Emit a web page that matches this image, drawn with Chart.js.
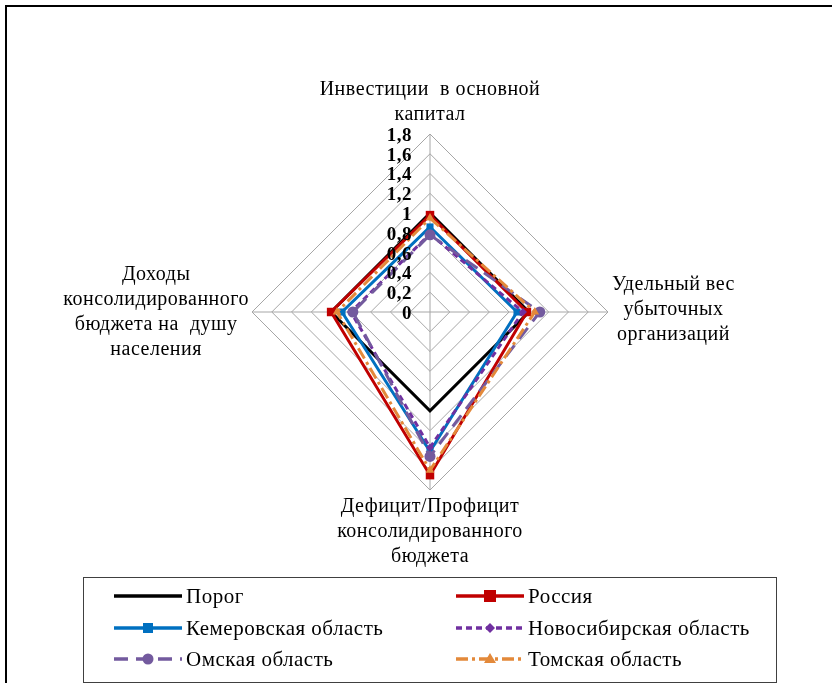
<!DOCTYPE html>
<html><head><meta charset="utf-8">
<script src="https://cdn.jsdelivr.net/npm/chart.js@4.4.0/dist/chart.umd.min.js"></script>
<style>
html,body{margin:0;padding:0;background:#fff;width:832px;height:683px;overflow:hidden;}
#frame{position:absolute;left:5px;top:5px;width:900px;height:800px;border-left:2.5px solid #000;border-top:2.5px solid #000;}
#c{position:absolute;left:0;top:0;}
#legend{position:absolute;left:83px;top:577px;width:694px;height:106px;border:1.5px solid #404040;box-sizing:border-box;font-family:"Liberation Serif","Times New Roman",serif;font-size:21px;letter-spacing:0.5px;color:#000;}
.item{position:absolute;height:26px;display:flex;align-items:center;white-space:nowrap;}
.item svg{margin-right:4px;}
</style></head>
<body>
<div id="frame"></div>
<canvas id="c" width="832" height="683"></canvas>
<div id="legend"></div>
<script>
const categories = [
  ["Инвестиции  в основной", "капитал"],
  ["Удельный вес", "убыточных", "организаций"],
  ["Дефицит/Профицит", "консолидированного", "бюджета"],
  ["Доходы", "консолидированного", "бюджета на  душу", "населения"]
];
const tickValues = [0, 0.2, 0.4, 0.6, 0.8, 1, 1.2, 1.4, 1.6, 1.8];
const tickLabels = ["0", "0,2", "0,4", "0,6", "0,8", "1", "1,2", "1,4", "1,6", "1,8"];
const seriesNames = ["Порог", "Россия", "Кемеровская область", "Новосибирская область", "Омская область", "Томская область"];
const porog = [1, 1, 1, 1];
const rossiya = [0.98, 0.98, 1.65, 1.0];
const kemerovo = [0.86, 0.88, 1.41, 0.89];
const novosib = [0.79, 0.94, 1.37, 0.8];
const omsk = [0.78, 1.11, 1.46, 0.78];
const tomsk = [0.95, 1.06, 1.6, 0.94];

const styles = [
  {color:'#000000', dash:[], point:false, r:0, width:3},
  {color:'#c00000', dash:[], point:'rect', r:6, width:3},
  {color:'#0070c0', dash:[], point:'rect', r:5, width:3},
  {color:'#7030a0', dash:[6,4], point:'rectRot', r:4, width:3},
  {color:'#735a9e', dash:[14,8], point:'circle', r:5.5, width:3},
  {color:'#e3893a', dash:[12,4,3,4], point:'triangle', r:5, width:3}
];
const allData = [porog, rossiya, kemerovo, novosib, omsk, tomsk];

const datasets = allData.map((d,i)=>({
  label: seriesNames[i],
  data: d,
  borderColor: styles[i].color,
  backgroundColor: styles[i].color,
  borderWidth: styles[i].width,
  borderDash: styles[i].dash,
  pointStyle: styles[i].point || 'circle',
  pointRadius: styles[i].r,
  pointBorderWidth: 0,
  pointBackgroundColor: styles[i].color,
  fill: false,
  tension: 0,
  order: 5 - i
}));

const serif = '"Liberation Serif","Times New Roman",serif';

const labelPlugin = {
  id: 'customLabels',
  afterDraw(chart) {
    const s = chart.scales.r;
    const ctx = chart.ctx;
    ctx.save();
    // tick labels
    ctx.font = 'bold 19px ' + serif;
    ctx.letterSpacing = '0.5px';
    ctx.fillStyle = '#000';
    ctx.textAlign = 'right';
    ctx.textBaseline = 'middle';
    tickValues.forEach((v, i) => {
      const p = s.getPointPositionForValue(0, v);
      ctx.fillText(tickLabels[i], p.x - 18, p.y + 2);
    });
    // point labels
    ctx.font = '20px ' + serif;
    ctx.letterSpacing = '0.5px';
    ctx.textAlign = 'center';
    const lh = 25;
    const R = s.drawingArea;
    categories.forEach((lines, i) => {
      const maxW = Math.max(...lines.map(l => ctx.measureText(l).width));
      const n = lines.length;
      let cx, cyTop;
      if (i === 0) {
        const p = s.getPointPosition(i, R + 7);
        cx = p.x; cyTop = p.y - n * lh;
      } else if (i === 2) {
        const p = s.getPointPosition(i, R + 4);
        cx = p.x; cyTop = p.y;
      } else if (i === 1) {
        const p = s.getPointPosition(i, R + 4);
        cx = p.x + maxW / 2; cyTop = p.y - n * lh / 2 - 2;
      } else {
        const p = s.getPointPosition(i, R + 3);
        cx = p.x - maxW / 2; cyTop = p.y - n * lh / 2;
      }
      lines.forEach((l, k) => ctx.fillText(l, cx, cyTop + lh * k + lh / 2));
    });
    ctx.restore();
  }
};

new Chart(document.getElementById('c'), {
  type: 'radar',
  data: { labels: categories.map(c => c.join(' ')), datasets },
  options: {
    responsive: false,
    animation: false,
    devicePixelRatio: 1,
    layout: { padding: { left: 252, right: 224, top: 134, bottom: 193 } },
    plugins: { legend: { display: false }, tooltip: { enabled: false } },
    elements: { line: { borderJoinStyle: 'miter' } },
    scales: {
      r: {
        min: 0, max: 1.8,
        ticks: { stepSize: 0.2, display: false },
        grid: { circular: false, color: '#a6a6a6', lineWidth: 1 },
        angleLines: { color: '#a6a6a6', lineWidth: 1 },
        pointLabels: { display: false }
      }
    }
  },
  plugins: [labelPlugin]
});

// HTML legend
const legend = document.getElementById('legend');
const pos = [[30,5],[372,5],[30,37],[372,37],[30,68],[372,68]];
seriesNames.forEach((name, i) => {
  const st = styles[i];
  const div = document.createElement('div');
  div.className = 'item';
  div.style.left = pos[i][0] + 'px';
  div.style.top = pos[i][1] + 'px';
  const W = 68, H = 20, cy = 10;
  let dash = st.dash.length ? `stroke-dasharray="${st.dash.join(' ')}"` : '';
  let marker = '';
  const c = st.color, mx = W/2;
  if (st.point === 'rect') marker = `<rect x="${mx-st.r}" y="${cy-st.r}" width="${2*st.r}" height="${2*st.r}" fill="${c}"/>`;
  if (st.point === 'rectRot') marker = `<polygon points="${mx},${cy-5} ${mx+5},${cy} ${mx},${cy+5} ${mx-5},${cy}" fill="${c}"/>`;
  if (st.point === 'circle') marker = `<circle cx="${mx}" cy="${cy}" r="5.5" fill="${c}"/>`;
  if (st.point === 'triangle') marker = `<polygon points="${mx},${cy-6} ${mx+6},${cy+4} ${mx-6},${cy+4}" fill="${c}"/>`;
  div.innerHTML = `<svg width="${W}" height="${H}"><line x1="0" y1="${cy}" x2="${W}" y2="${cy}" stroke="${c}" stroke-width="3.5" ${dash}/>${marker}</svg><span>${name}</span>`;
  legend.appendChild(div);
});
</script>
</body></html>
